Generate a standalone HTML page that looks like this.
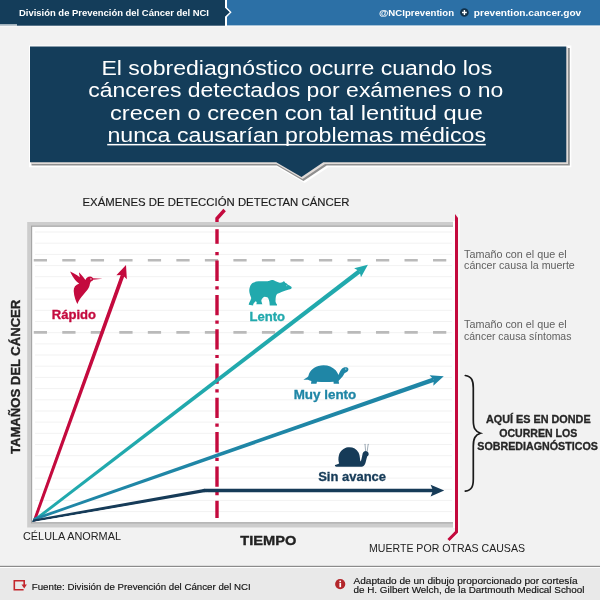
<!DOCTYPE html>
<html lang="es"><head><meta charset="utf-8"><title>Sobrediagnóstico</title>
<style>html,body{margin:0;padding:0;background:#f2f2f2;}body{width:600px;height:600px;overflow:hidden;}svg{display:block;}text{font-family:'Liberation Sans', sans-serif;}</style></head><body>
<svg width="600" height="600" viewBox="0 0 600 600">
<rect width="600" height="600" fill="#f2f2f2"/>
<g id="header">
<rect x="0" y="0" width="600" height="26.6" fill="#fbfbfb"/>
<rect x="0" y="0" width="226" height="25.4" fill="#143d5a"/>
<rect x="226" y="0" width="374" height="25.4" fill="#2c70a6"/>
<path d="M225 0 L225 8 L229.6 12.3 L225 16.6 L225 26 L227 26 L227 17 L231.6 12.3 L227 7.6 L227 0 Z" fill="#ffffff"/>
<path d="M0 0 H225 V8 L229.6 12.3 L225 16.6 V25.4 H0 Z" fill="#143d5a"/>
<rect x="0" y="24.4" width="17" height="1.2" fill="#ffffff"/>
<text x="19" y="16" font-size="9.4" font-weight="bold" fill="#ffffff" textLength="190" lengthAdjust="spacingAndGlyphs">División de Prevención del Cáncer del NCI</text>
<text x="379" y="16.1" font-size="9.5" font-weight="bold" fill="#ffffff" textLength="75" lengthAdjust="spacingAndGlyphs">@NCIprevention</text>
<circle cx="464.4" cy="12.5" r="4.3" fill="#12314a"/>
<path d="M462 12.5 H466.8 M464.4 10.1 V14.9" stroke="#ffffff" stroke-width="1.4" fill="none"/>
<text x="473.8" y="16.1" font-size="9.5" font-weight="bold" fill="#ffffff" textLength="107.4" lengthAdjust="spacingAndGlyphs">prevention.cancer.gov</text>
</g>
<g id="bubble">
<path d="M29.0 45.4 H571.3 V167.3 H328.4 L304.6 182.9 L277.2 167.3 H29.0 Z" fill="#ffffff"/>
<path d="M31.5 48.0 H569.8 V165.6 H326.7 L303.5 180.9 L276.9 165.6 H31.5 Z" fill="#8f8f8f"/>
<path d="M31.0 47.4 H568.0 V163.9 H325.0 L302.5 179.0 L276.5 163.9 H31.0 Z" fill="#e2dcd9"/>
<path d="M30.0 46.4 H566.3 V162.2 H323.3 L301.5 177.0 L276.2 162.2 H30.0 Z" fill="#143d5a"/>
<text x="101.4" y="74.9" font-size="20" fill="#ffffff" textLength="390.8" lengthAdjust="spacingAndGlyphs">El sobrediagnóstico ocurre cuando los</text>
<text x="88.2" y="96.6" font-size="20" fill="#ffffff" textLength="415.0" lengthAdjust="spacingAndGlyphs">cánceres detectados por exámenes o no</text>
<text x="110.0" y="119.8" font-size="20" fill="#ffffff" textLength="373.0" lengthAdjust="spacingAndGlyphs">crecen o crecen con tal lentitud que</text>
<text x="107.4" y="141.8" font-size="20" fill="#ffffff" textLength="378.6" lengthAdjust="spacingAndGlyphs">nunca causarían problemas médicos</text>
<rect x="107.2" y="143.9" width="378.6" height="1.5" fill="#ffffff"/>
</g>
<g id="chart">
<text x="82.5" y="205.8" font-size="10.9" fill="#1c1c1c" stroke="#1c1c1c" stroke-width="0.15" textLength="267" lengthAdjust="spacingAndGlyphs">EXÁMENES DE DETECCIÓN DETECTAN CÁNCER</text>
<rect x="27.2" y="222" width="427.8" height="305.5" fill="#cdcdcd"/>
<rect x="31" y="225.6" width="424" height="297.8" fill="#a6a6a6"/>
<rect x="32.2" y="226.8" width="422.8" height="295.4" fill="#ffffff"/>
<rect x="453" y="221" width="3" height="307" fill="#ffffff"/>
<rect x="35" y="231.5" width="417" height="1" fill="#f2f2f2"/>
<rect x="35" y="242.7" width="417" height="1" fill="#f2f2f2"/>
<rect x="35" y="253.9" width="417" height="1" fill="#f2f2f2"/>
<rect x="35" y="265.1" width="417" height="1" fill="#f2f2f2"/>
<rect x="35" y="276.2" width="417" height="1" fill="#f2f2f2"/>
<rect x="35" y="287.4" width="417" height="1" fill="#f2f2f2"/>
<rect x="35" y="298.6" width="417" height="1" fill="#f2f2f2"/>
<rect x="35" y="309.8" width="417" height="1" fill="#f2f2f2"/>
<rect x="35" y="321.0" width="417" height="1" fill="#f2f2f2"/>
<rect x="35" y="332.2" width="417" height="1" fill="#f2f2f2"/>
<rect x="35" y="343.4" width="417" height="1" fill="#f2f2f2"/>
<rect x="35" y="354.5" width="417" height="1" fill="#f2f2f2"/>
<rect x="35" y="365.7" width="417" height="1" fill="#f2f2f2"/>
<rect x="35" y="376.9" width="417" height="1" fill="#f2f2f2"/>
<rect x="35" y="388.1" width="417" height="1" fill="#f2f2f2"/>
<rect x="35" y="399.3" width="417" height="1" fill="#f2f2f2"/>
<rect x="35" y="410.5" width="417" height="1" fill="#f2f2f2"/>
<rect x="35" y="421.6" width="417" height="1" fill="#f2f2f2"/>
<rect x="35" y="432.8" width="417" height="1" fill="#f2f2f2"/>
<rect x="35" y="444.0" width="417" height="1" fill="#f2f2f2"/>
<rect x="35" y="455.2" width="417" height="1" fill="#f2f2f2"/>
<rect x="35" y="466.4" width="417" height="1" fill="#f2f2f2"/>
<rect x="35" y="477.6" width="417" height="1" fill="#f2f2f2"/>
<rect x="35" y="488.8" width="417" height="1" fill="#f2f2f2"/>
<rect x="35" y="499.9" width="417" height="1" fill="#f2f2f2"/>
<rect x="35" y="511.1" width="417" height="1" fill="#f2f2f2"/>
<path d="M33.75 260.2 H452" stroke="#bababa" stroke-width="2.6" stroke-dasharray="13.25 15.27" fill="none"/>
<path d="M33.75 332.4 H452" stroke="#bababa" stroke-width="2.6" stroke-dasharray="13.25 15.27" fill="none"/>
<path d="M224.6 210 L217 218.5 V222" stroke="#c40a3e" stroke-width="3.4" fill="none" stroke-linejoin="miter"/>
<path d="M217 229.2 V243.8" stroke="#c40a3e" stroke-width="3.4" fill="none"/>
<path d="M217 252 V518" stroke="#c40a3e" stroke-width="3.4" stroke-dasharray="3.2 5.4 20.3 5.4" fill="none"/>
<clipPath id="fan"><path d="M32.3 522 L390.3 -478 L1432 -478 L1432 600 L208 600 L208 492.7 Z"/></clipPath>
<g clip-path="url(#fan)">
<polygon points="33.87,526.22 124.48,275.72 120.34,274.23 30.67,525.07" fill="#c40a3e"/>
<polygon points="29.79,525.56 360.82,272.99 358.15,269.50 28.09,523.34" fill="#21a9ad"/>
<polygon points="28.46,522.61 434.47,381.77 433.02,377.62 27.61,520.15" fill="#1f86a6"/>
<polygon points="28.01,522.98 204.30,492.32 203.70,488.88 27.57,520.51" fill="#163b58"/>
<circle cx="204.00" cy="490.60" r="1.75" fill="#163b58"/>
<polygon points="204.00,492.35 433.00,492.35 433.00,488.85 204.00,488.85" fill="#163b58"/>
</g>
<path d="M126.00 265.00 L126.87 279.13 L122.41 274.97 L116.33 275.34 Z" fill="#c40a3e"/>
<path d="M367.90 264.80 L360.99 277.15 L359.49 271.25 L354.17 268.26 Z" fill="#21a9ad"/>
<path d="M443.75 376.20 L433.32 385.77 L433.74 379.69 L429.63 375.20 Z" fill="#1f86a6"/>
<path d="M444.20 490.60 L430.60 496.40 L433.00 490.60 L430.60 484.80 Z" fill="#163b58"/>
</g>
<g id="deathline">
<path d="M459 214 V533 L449.5 541.5" stroke="#ffffff" stroke-width="1" fill="none"/>
<path d="M455 214 L458 218 V532.5 L449.6 541 L447.4 539 L455 531.3 Z" fill="#c40a3e"/>
</g>
<g id="labels" font-weight="bold" stroke-width="0.3">
<text x="51.7" y="318.7" font-size="12" fill="#c40a3e" stroke="#c40a3e" textLength="44.3" lengthAdjust="spacingAndGlyphs">Rápido</text>
<text x="249.4" y="320.7" font-size="12" fill="#21a9ad" stroke="#21a9ad" textLength="35.6" lengthAdjust="spacingAndGlyphs">Lento</text>
<text x="293.7" y="398.7" font-size="12" fill="#1f86a6" stroke="#1f86a6" textLength="62.6" lengthAdjust="spacingAndGlyphs">Muy lento</text>
<text x="318.2" y="481.2" font-size="12" fill="#163b58" stroke="#163b58" textLength="67.8" lengthAdjust="spacingAndGlyphs">Sin avance</text>
</g>
<g id="animals">
<g transform="translate(65 265) scale(0.075)">
<path fill="#c40a3e" d="M68 85 C100 100 150 125 197 162 L185 97 C215 125 250 170 272 200 C282 170 305 152 335 152 C355 152 368 163 374 178 L500 182 L374 196 C370 210 358 218 345 220 C335 235 330 255 326 280 C318 310 290 345 250 390 C215 430 185 470 165 520 C145 480 120 420 116 345 C114 300 140 265 190 248 C150 220 100 160 68 85 Z"/>
<circle cx="346" cy="185" r="9" fill="#ffffff"/>
</g>
<g transform="translate(243 275) scale(0.0916667)">
<path fill="#21a9ad" d="M75 130 C85 105 95 92 110 85 C130 74 150 70 170 68 C195 66 220 68 240 68 C260 68 275 66 290 62 C300 57 310 54 320 55 C332 56 342 60 350 65 C368 72 385 80 400 85 C412 86 422 84 430 80 C436 72 442 68 448 68 C454 72 458 78 460 85 C472 90 482 98 490 105 C505 112 520 122 530 130 C532 138 530 145 525 150 C518 156 510 158 500 158 C490 162 478 166 465 168 C450 174 435 180 420 185 C405 192 390 198 375 205 C368 212 363 220 360 230 C356 250 354 270 355 290 C358 305 364 315 372 322 L370 332 L292 332 L290 315 C290 302 288 290 285 280 C282 266 277 254 270 245 C258 240 246 238 235 238 C227 240 220 244 215 250 C208 258 203 266 200 275 C200 285 202 293 205 300 C206 308 208 314 212 318 L145 318 C148 312 150 306 150 300 C148 294 144 289 140 285 C134 289 129 294 125 300 C120 306 115 312 112 318 L110 332 L62 325 C64 312 68 300 75 290 C82 277 88 264 90 250 C84 237 78 224 75 210 C70 197 68 184 68 170 C68 156 70 142 75 130 Z"/>
<circle cx="478" cy="118" r="5" fill="#ffffff"/>
</g>
<g transform="translate(285 355) scale(0.133333)">
<path fill="#1f86a6" d="M138 185 C155 178 165 170 175 160 C180 130 205 95 250 82 C300 68 350 82 380 115 C390 128 397 140 400 150 C408 135 415 115 425 105 C435 92 455 88 470 95 C478 100 478 112 470 122 C462 130 450 134 445 138 C440 150 430 165 415 180 C410 185 405 190 402 195 L406 215 L365 215 L364 200 C330 203 280 203 240 200 L236 215 L195 215 L198 195 C190 192 180 190 172 185 C160 186 150 187 138 185 Z"/>
<circle cx="456" cy="105" r="4.5" fill="#ffffff"/>
</g>
<g transform="translate(330 440) scale(0.075)" fill="#163b58">
<path d="M65 337 C80 325 100 322 122 312 C110 280 108 240 120 200 C135 150 180 105 240 97 C300 90 350 115 380 165 C395 195 400 235 402 270 C404 280 406 285 410 288 C420 260 425 225 432 195 C436 170 448 152 470 148 C495 146 515 162 516 185 C516 200 508 210 497 216 C490 235 484 262 478 285 C472 310 462 335 447 348 C440 354 432 356 422 356 L85 356 C72 355 64 346 65 337 Z"/>
<path d="M475 150 L467 58 M496 150 L509 56" stroke="#7a8b9b" stroke-width="9.5" fill="none"/>
<circle cx="467" cy="57" r="5.5" fill="#4a6075"/><circle cx="509" cy="55" r="5.5" fill="#4a6075"/>
</g>
</g>

<g id="sidetext" fill="#616161" font-size="10">
<text x="464.1" y="258.4" textLength="102.5" lengthAdjust="spacingAndGlyphs">Tamaño con el que el</text>
<text x="464.1" y="269.3" textLength="110.7" lengthAdjust="spacingAndGlyphs">cáncer causa la muerte</text>
<text x="464.1" y="327.8" textLength="102.5" lengthAdjust="spacingAndGlyphs">Tamaño con el que el</text>
<text x="464.1" y="339.7" textLength="107.3" lengthAdjust="spacingAndGlyphs">cáncer causa síntomas</text>
</g>
<path d="M465.3 375.5 C472 376.5 473.3 381 473.3 388 V420 C473.3 428 475 431.5 480.5 433.3 C475 435 473.3 438.5 473.3 446 V479 C473.3 486 472 490.3 465.3 491.2" stroke="#1a1a1a" stroke-width="1.7" fill="none" stroke-linecap="round"/>
<g id="bracetext" fill="#262626" stroke="#262626" stroke-width="0.3" font-size="10.2" font-weight="bold">
<text x="485.9" y="422.7" textLength="104.8" lengthAdjust="spacingAndGlyphs">AQUÍ ES EN DONDE</text>
<text x="499.2" y="436.5" textLength="78.1" lengthAdjust="spacingAndGlyphs">OCURREN LOS</text>
<text x="477.3" y="449.9" textLength="120.6" lengthAdjust="spacingAndGlyphs">SOBREDIAGNÓSTICOS</text>
</g>
<g id="axis" fill="#222222" stroke="#222222" stroke-width="0">
<text transform="translate(20.25 454) rotate(-90)" font-size="12.8" font-weight="bold" stroke-width="0.35" textLength="154.3" lengthAdjust="spacingAndGlyphs">TAMAÑOS DEL CÁNCER</text>
<text x="240.3" y="544.7" font-size="13.2" font-weight="bold" stroke-width="0.35" textLength="56" lengthAdjust="spacingAndGlyphs">TIEMPO</text>
<text x="23" y="539.6" font-size="10.8" textLength="98" lengthAdjust="spacingAndGlyphs">CÉLULA ANORMAL</text>
<text x="369" y="551.7" font-size="10.5" textLength="156" lengthAdjust="spacingAndGlyphs">MUERTE POR OTRAS CAUSAS</text>
</g>
<g id="footer">
<rect x="0" y="567" width="600" height="33" fill="#e9e9e9"/>
<rect x="0" y="565.8" width="600" height="1.2" fill="#8c8c8c"/>
<rect x="0" y="567" width="600" height="1" fill="#ffffff"/>
<path d="M24.2 585 V580.8 H14.3 V589.8 H23.6" stroke="#c3272d" stroke-width="1.6" fill="none"/>
<path d="M21.5 584.6 H26.9 L24.2 588.6 Z" fill="#c3272d"/>
<text x="31.8" y="589.7" font-size="9.8" fill="#111111" stroke="#111111" stroke-width="0.15" textLength="219" lengthAdjust="spacingAndGlyphs">Fuente: División de Prevención del Cáncer del NCI</text>
<circle cx="340.2" cy="584.1" r="5.1" fill="#b3262b"/>
<circle cx="340.2" cy="581.4" r="0.9" fill="#ffffff"/>
<rect x="339.4" y="583" width="1.7" height="4.2" fill="#ffffff"/>
<text x="353.5" y="583.5" font-size="9.6" fill="#111111" stroke="#111111" stroke-width="0.15" textLength="224.2" lengthAdjust="spacingAndGlyphs">Adaptado de un dibujo proporcionado por cortesía</text>
<text x="353.5" y="593.2" font-size="9.6" fill="#111111" stroke="#111111" stroke-width="0.15" textLength="231" lengthAdjust="spacingAndGlyphs">de H. Gilbert Welch, de la Dartmouth Medical School</text>
</g>
</svg></body></html>
